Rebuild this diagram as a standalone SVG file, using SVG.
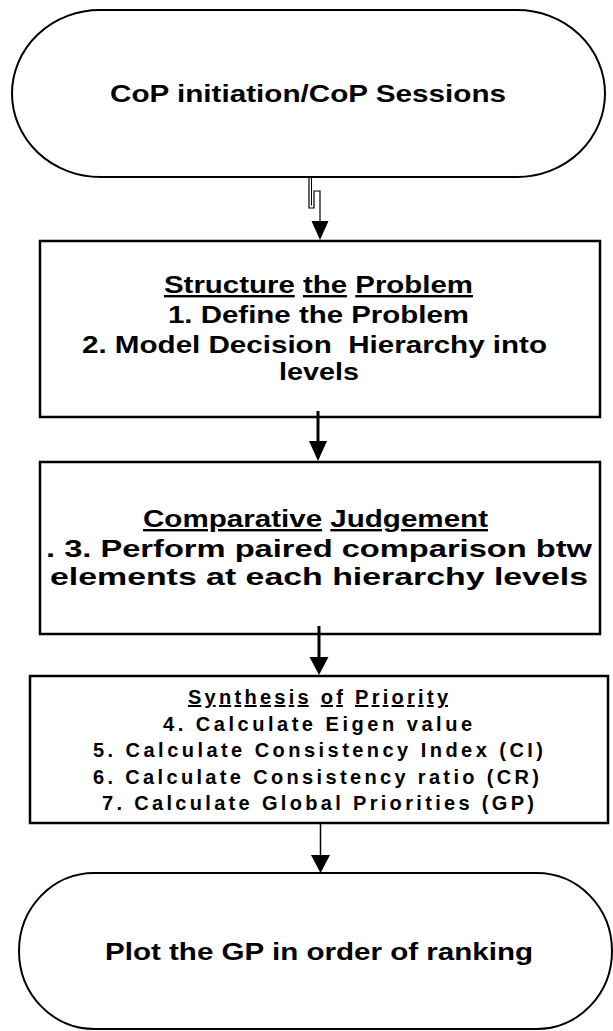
<svg xmlns="http://www.w3.org/2000/svg" width="613" height="1031" viewBox="0 0 613 1031">
  <style>
    .shape { fill: #ffffff; stroke: #000000; }
    .term { stroke-width: 2; }
    .box { stroke-width: 2.5; }
    .lbl { font-family: "Liberation Sans", Arial, sans-serif; font-weight: bold; fill: #000000; text-anchor: middle; }
    .big { font-size: 24px; }
    .small { font-size: 20px; }
    .u { text-decoration: underline; }
    .wire { fill: none; stroke: #000000; }
    .head { fill: #000000; stroke: none; }
  </style>
  <rect width="613" height="1031" fill="#ffffff"/>

  <!-- start terminator -->
  <g id="start">
    <rect class="shape term" x="12" y="10" width="593" height="167" rx="88" ry="83.5"/>
    <text class="lbl big" x="308" y="102" textLength="396" lengthAdjust="spacingAndGlyphs">CoP initiation/CoP Sessions</text>
  </g>

  <!-- step 1 -->
  <g id="structure">
    <rect class="shape box" x="40" y="241" width="560" height="176"/>
    <text class="lbl big" x="318.5" y="293" textLength="309" lengthAdjust="spacingAndGlyphs"><tspan class="u">Structure</tspan> <tspan class="u">the</tspan> <tspan class="u">Problem</tspan></text>
    <text class="lbl big" x="318.5" y="323" textLength="301" lengthAdjust="spacingAndGlyphs">1. Define the Problem</text>
    <text class="lbl big" x="314.5" y="353" textLength="465" lengthAdjust="spacingAndGlyphs" xml:space="preserve">2. Model Decision  Hierarchy into</text>
    <text class="lbl big" x="319" y="380" textLength="80" lengthAdjust="spacingAndGlyphs">levels</text>
  </g>

  <!-- step 2 -->
  <g id="judgement">
    <rect class="shape box" x="40" y="462" width="560" height="172"/>
    <text class="lbl big" x="315.5" y="527" textLength="345" lengthAdjust="spacingAndGlyphs"><tspan class="u">Comparative</tspan> <tspan class="u">Judgement</tspan></text>
    <text class="lbl big" x="319" y="557" textLength="546" lengthAdjust="spacingAndGlyphs">. 3. Perform paired comparison btw</text>
    <text class="lbl big" x="319" y="585" textLength="538" lengthAdjust="spacingAndGlyphs">elements at each hierarchy levels</text>
  </g>

  <!-- step 3 -->
  <g id="synthesis">
    <rect class="shape box" x="30" y="676" width="578" height="147"/>
    <text class="lbl small" x="318" y="704" textLength="260" lengthAdjust="spacing"><tspan class="u">Synthesis</tspan> <tspan class="u">of</tspan> <tspan class="u">Priority</tspan></text>
    <text class="lbl small" x="317.5" y="730.5" textLength="309" lengthAdjust="spacing">4. Calculate Eigen value</text>
    <text class="lbl small" x="318" y="757" textLength="450" lengthAdjust="spacing">5. Calculate Consistency Index (CI)</text>
    <text class="lbl small" x="316" y="783.5" textLength="446" lengthAdjust="spacing">6. Calculate Consistency ratio (CR)</text>
    <text class="lbl small" x="318" y="810" textLength="432" lengthAdjust="spacing">7. Calculate Global Priorities (GP)</text>
  </g>

  <!-- end terminator -->
  <g id="end">
    <rect class="shape term" x="19" y="873" width="593" height="156" rx="75" ry="78"/>
    <text class="lbl big" x="319" y="960" textLength="428" lengthAdjust="spacingAndGlyphs">Plot the GP in order of ranking</text>
  </g>

  <!-- connectors -->
  <g id="connectors">
    <path class="wire" stroke-width="1.2" d="M309,177 V208 H314 V191 H320 V222"/>
    <path class="wire" stroke-width="1" d="M311.5,177 V205.5"/>
    <polygon class="head" points="311.5,221 328.5,221 320,240"/>

    <line class="wire" stroke-width="3" x1="318" y1="411" x2="318" y2="442"/>
    <polygon class="head" points="309,441 327,441 318,461"/>

    <line class="wire" stroke-width="3" x1="319" y1="626" x2="319" y2="658"/>
    <polygon class="head" points="309.5,657 328.5,657 319,675"/>

    <line class="wire" stroke-width="1.5" x1="320.5" y1="823" x2="320.5" y2="856"/>
    <polygon class="head" points="311,855 330,855 320.5,873"/>
  </g>
</svg>
